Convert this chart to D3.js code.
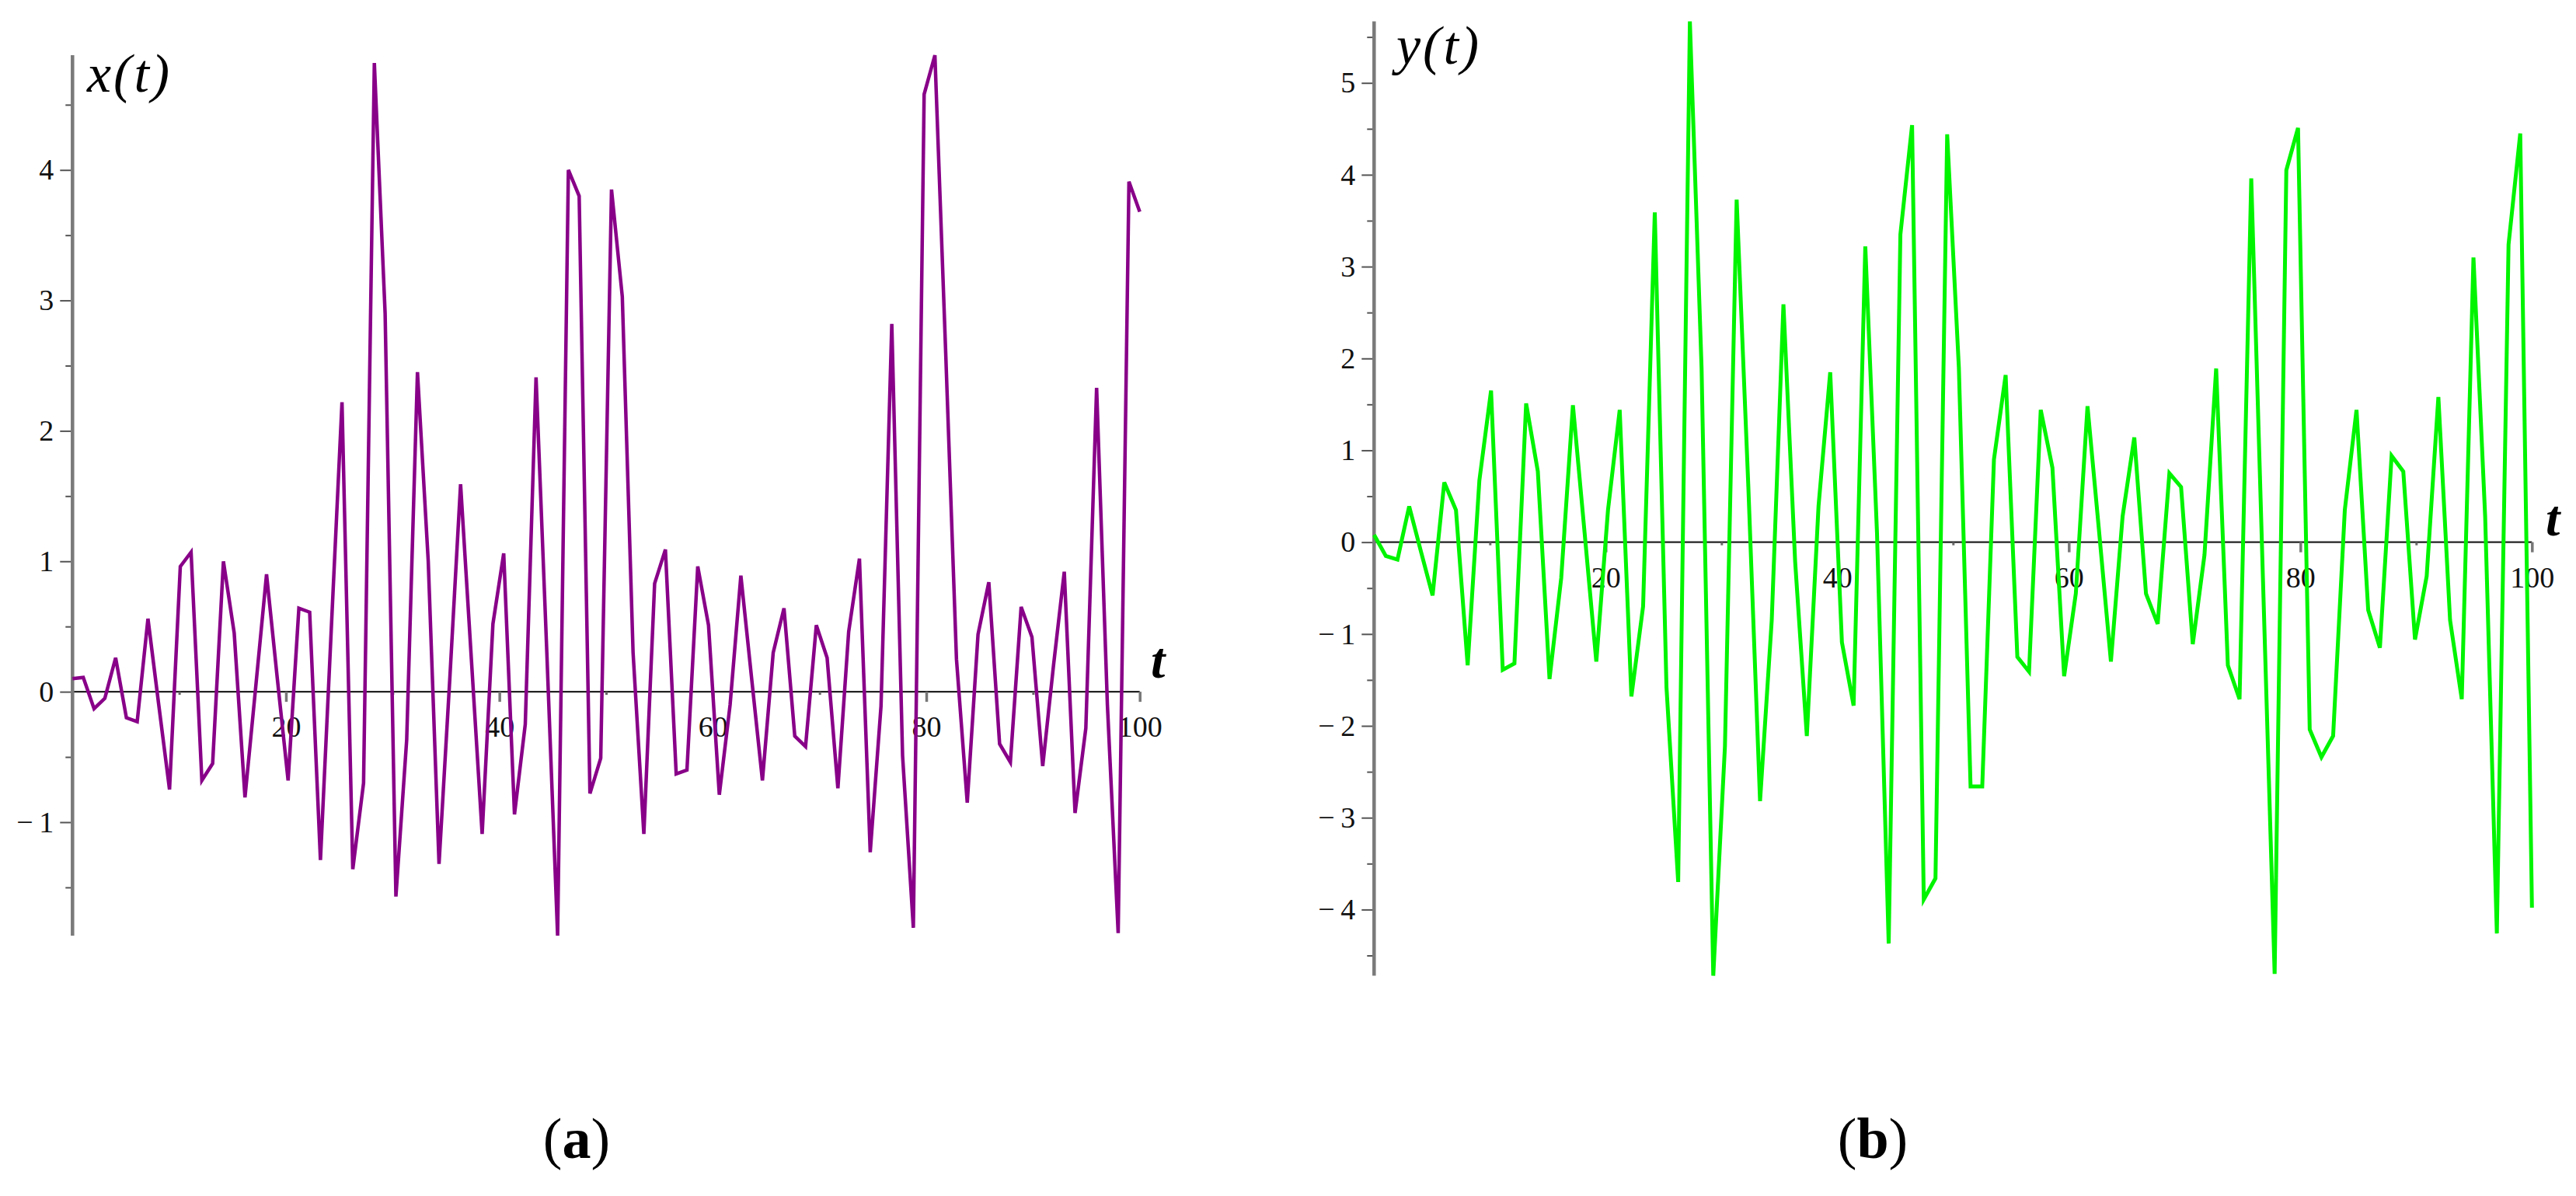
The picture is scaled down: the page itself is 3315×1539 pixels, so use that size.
<!DOCTYPE html>
<html>
<head>
<meta charset="utf-8">
<script src="https://cdn.jsdelivr.net/npm/d3@7"></script>
<style>
  html, body { margin: 0; padding: 0; background: #fff; }
  svg { display: block; }
  text { font-family: "Liberation Serif", "Times New Roman", serif; }
</style>
</head>
<body>
<svg id="chart" width="3315" height="1539"></svg>
<script>
// ---------------- data ----------------
const T_DOMAIN = [0, 100];
const xTickMajor = [20, 40, 60, 80, 100];
const xTickMinor = [10, 30, 50, 70, 90];
const yTicksLeft = [-1, 0, 1, 2, 3, 4];
const yTicksRight = [-4, -3, -2, -1, 0, 1, 2, 3, 4, 5];

// x(t), sampled uniformly on t in [0, 100]
const xSeries = [
  0.10, 0.11, -0.13, -0.05, 0.26, -0.20, -0.23, 0.56, -0.10, -0.75,
  0.96, 1.07, -0.68, -0.55, 1.00, 0.45, -0.81, 0.04, 0.90, 0.10,
  -0.68, 0.64, 0.61, -1.29, 0.47, 2.22, -1.36, -0.70, 4.82, 2.90,
  -1.57, -0.37, 2.45, 1.00, -1.32, 0.10, 1.59, 0.25, -1.09, 0.52,
  1.06, -0.94, -0.25, 2.41, 0.30, -1.87, 4.00, 3.80, -0.78, -0.51,
  3.85, 3.03, 0.30, -1.09, 0.83, 1.09, -0.63, -0.60, 0.96, 0.51,
  -0.79, -0.10, 0.89, 0.10, -0.68, 0.30, 0.64, -0.34, -0.42, 0.51,
  0.26, -0.74, 0.46, 1.02, -1.23, -0.11, 2.82, -0.49, -1.81, 4.58,
  4.88, 2.60, 0.25, -0.85, 0.44, 0.84, -0.40, -0.54, 0.65, 0.42,
  -0.57, 0.20, 0.92, -0.93, -0.28, 2.33, -0.10, -1.85, 3.91, 3.68
];

// y(t), sampled uniformly on t in [0, 100]
const ySeries = [
  0.08, -0.15, -0.19, 0.39, -0.10, -0.58, 0.65, 0.35, -1.34, 0.67,
  1.65, -1.39, -1.32, 1.51, 0.77, -1.49, -0.39, 1.49, 0.10, -1.30,
  0.35, 1.44, -1.68, -0.70, 3.59, -1.58, -3.70, 5.67, 1.90, -4.72,
  -2.22, 3.73, 0.60, -2.82, -0.85, 2.59, -0.21, -2.11, 0.39, 1.85,
  -1.09, -1.78, 3.22, 0.10, -4.37, 3.35, 4.54, -3.89, -3.66, 4.44,
  1.90, -2.66, -2.66, 0.90, 1.82, -1.25, -1.41, 1.44, 0.81, -1.46,
  -0.56, 1.48, 0.10, -1.30, 0.28, 1.14, -0.56, -0.89, 0.75, 0.60,
  -1.11, -0.14, 1.89, -1.34, -1.71, 3.96, -0.40, -4.70, 4.05, 4.51,
  -2.04, -2.34, -2.11, 0.35, 1.44, -0.74, -1.15, 0.94, 0.77, -1.06,
  -0.37, 1.58, -0.85, -1.71, 3.10, 0.28, -4.26, 3.24, 4.45, -3.98
];

// ---------------- layout ----------------
const svg = d3.select("#chart");
svg.append("rect").attr("width", 3315).attr("height", 1539).attr("fill", "#fff");

const panels = [
  { values: xSeries, color: "#880088", width: 4.5, yTicks: yTicksLeft, ylab: "x(t)", cap: "a",
    xRange: [93.3, 1466.7], yRange: [1204, 71],
    ylabX: 112, ylabY: 118, tlabX: 1481, tlabY: 872, capX: 742 },
  { values: ySeries, color: "#00f400", width: 5, yTicks: yTicksRight, ylab: "y(t)", cap: "b",
    xRange: [1768.3, 3258.3], yRange: [1255.5, 27.5],
    ylabX: 1797, ylabY: 82, tlabX: 3276, tlabY: 689, capX: 2410 }
];

panels.forEach(p => {
  const g = svg.append("g");
  const xS = d3.scaleLinear().domain(T_DOMAIN).range(p.xRange);
  const yS = d3.scaleLinear().domain(d3.extent(p.values)).range(p.yRange);
  const idx = d3.scaleLinear().domain([0, p.values.length - 1]).range(T_DOMAIN);
  const y0 = yS(0);
  const [yMin, yMax] = yS.domain();

  // minor y ticks (half units)
  const minorY = d3.range(Math.ceil(yMin * 2) / 2, yMax + 1e-9, 0.5).filter(v => Math.abs(v - Math.round(v)) > 0.1);
  const yMinorAxis = d3.axisLeft(yS).tickValues(minorY).tickSize(9).tickFormat("");
  const gym = g.append("g").attr("transform", `translate(${xS(0)},0)`).call(yMinorAxis);
  gym.select(".domain").remove();
  gym.selectAll("line").attr("stroke", "#555").attr("stroke-width", 2);

  // major y ticks with labels
  const yAxis = d3.axisLeft(yS).tickValues(p.yTicks).tickSize(16).tickPadding(8)
    .tickFormat(d => d < 0 ? "\u2212\u2009" + Math.abs(d) : String(d));
  const gy = g.append("g").attr("transform", `translate(${xS(0)},0)`).call(yAxis);
  gy.select(".domain").remove();
  gy.selectAll("line").attr("stroke", "#555").attr("stroke-width", 2);
  gy.selectAll("text").attr("font-size", 38).attr("fill", "#111")
    .attr("font-family", '"Liberation Serif", "Times New Roman", serif');

  // x axis line
  g.append("line").attr("x1", xS(0)).attr("x2", xS(100)).attr("y1", y0).attr("y2", y0)
    .attr("stroke", "#222").attr("stroke-width", 2.2);

  // minor x ticks
  const xMinorAxis = d3.axisBottom(xS).tickValues(xTickMinor).tickSize(4).tickFormat("");
  const gxm = g.append("g").attr("transform", `translate(0,${y0})`).call(xMinorAxis);
  gxm.select(".domain").remove();
  gxm.selectAll("line").attr("stroke", "#666").attr("stroke-width", 3);

  // major x ticks with labels
  const xAxis = d3.axisBottom(xS).tickValues(xTickMajor).tickSize(13).tickPadding(18);
  const gx = g.append("g").attr("transform", `translate(0,${y0})`).call(xAxis);
  gx.select(".domain").remove();
  gx.selectAll("line").attr("stroke", "#777").attr("stroke-width", 3.5);
  gx.selectAll("text").attr("font-size", 38).attr("fill", "#111")
    .attr("font-family", '"Liberation Serif", "Times New Roman", serif');

  // y axis line (thick grey)
  g.append("line").attr("x1", xS(0)).attr("x2", xS(0)).attr("y1", yS(yMax)).attr("y2", yS(yMin))
    .attr("stroke", "#7a7a7a").attr("stroke-width", 4.5);

  // data line
  const line = d3.line().x((d, i) => xS(idx(i))).y(d => yS(d));
  g.append("path").datum(p.values).attr("d", line)
    .attr("fill", "none").attr("stroke", p.color).attr("stroke-width", p.width)
    .attr("stroke-linejoin", "miter");

  // axis titles
  g.append("text").attr("x", p.ylabX).attr("y", p.ylabY).attr("font-size", 70)
    .attr("font-style", "italic").attr("letter-spacing", 3).attr("fill", "#000").text(p.ylab);
  g.append("text").attr("x", p.tlabX).attr("y", p.tlabY).attr("font-size", 66)
    .attr("font-style", "italic").attr("font-weight", "bold").attr("fill", "#000").text("t");

  // caption
  const cap = g.append("text").attr("x", p.capX).attr("y", 1490).attr("font-size", 74)
    .attr("text-anchor", "middle").attr("fill", "#000");
  cap.append("tspan").text("(");
  cap.append("tspan").attr("font-weight", "bold").text(p.cap);
  cap.append("tspan").text(")");
});
</script>
</body>
</html>
